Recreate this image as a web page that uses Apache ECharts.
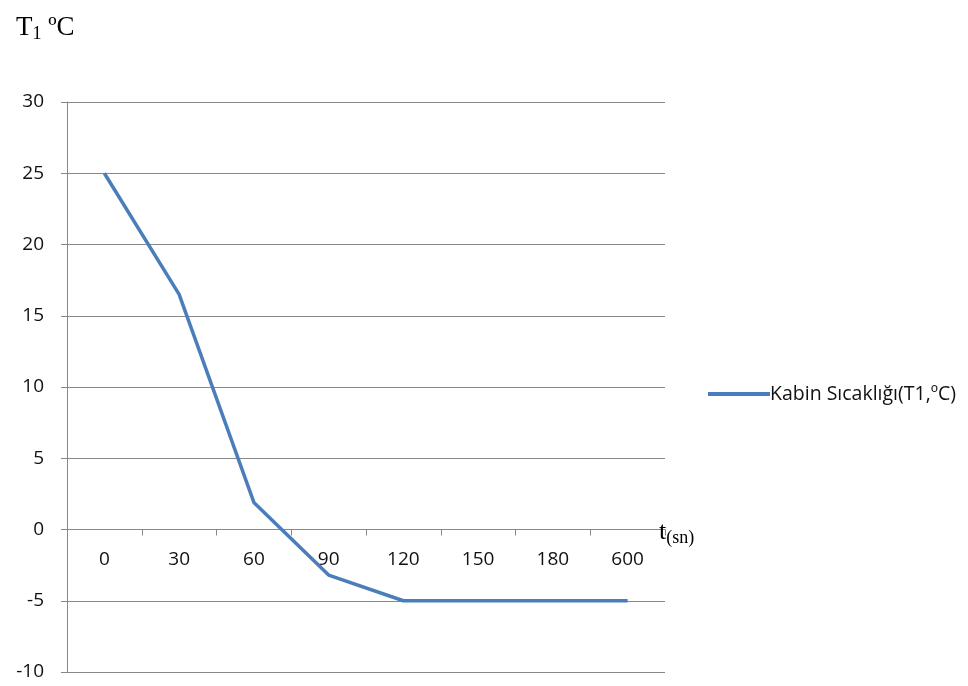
<!DOCTYPE html>
<html><head><meta charset="utf-8">
<script src="https://cdn.jsdelivr.net/npm/echarts@6/dist/echarts.min.js"></script>
<style>html,body{margin:0;padding:0;background:#fff}#c{width:968px;height:686px}</style>
</head><body><div id="c"></div>
<script>
var categories = ['0','30','60','90','120','150','180','600'];
var seriesName = 'Kabin Sıcaklığı(T1,ºC)';
var values = [25, 16.5, 1.9, -3.2, -5, -5, -5, -5];
var yTicks = {min: -10, max: 30, interval: 5};

var chart = echarts.init(document.getElementById('c'));
var labelFont = '"Open Sans", Carlito, sans-serif';
var serif = '"Liberation Serif", "Times New Roman", serif';
var gridTop = 102, gridBottom = 14, H = 686;
var plotH = H - gridTop - gridBottom;
// vertical pixel distance from bottom of plot to the zero line
var zeroOffset = plotH * (0 - yTicks.min) / (yTicks.max - yTicks.min);
chart.setOption({
  animation: false,
  backgroundColor: '#fff',
  title: [{
    text: '{a|T}{b|1}{a| ºC}',
    left: 11, top: 8,
    textStyle: {fontWeight: 'normal', rich: {
      a: {fontFamily: serif, fontSize: 27, fontWeight: 'normal', color: '#000'},
      b: {fontFamily: serif, fontSize: 18, fontWeight: 'normal', color: '#000', padding: [12,0,0,0]}
    }}
  }, {
    text: '{a|t}{b|(sn)}',
    left: 654, top: 512,
    textStyle: {fontWeight: 'normal', rich: {
      a: {fontFamily: serif, fontSize: 26, fontWeight: 'normal', color: '#000'},
      b: {fontFamily: serif, fontSize: 18, fontWeight: 'normal', color: '#000', padding: [12,0,0,0]}
    }}
  }],
  legend: {
    data: [seriesName],
    orient: 'vertical',
    left: 703, top: 379,
    icon: 'rect',
    itemWidth: 62, itemHeight: 4,
    itemGap: 10,
    textStyle: {fontFamily: labelFont, fontSize: 19.5, color: '#111', padding: [0,0,0,-5]}
  },
  grid: {left: 67, right: 303, top: gridTop, bottom: gridBottom, containLabel: false, outerBoundsMode: 'none'},
  xAxis: {
    type: 'category',
    data: categories,
    boundaryGap: true,
    offset: -zeroOffset,
    axisLine: {onZero: false, lineStyle: {color: '#888', width: 1}},
    axisTick: {show: true, inside: false, length: 6, lineStyle: {color: '#888'}},
    axisLabel: {fontFamily: labelFont, fontSize: 19, color: '#111', margin: 21},
    splitLine: {show: false}
  },
  yAxis: {
    type: 'value',
    min: yTicks.min, max: yTicks.max, interval: yTicks.interval,
    axisLine: {show: true, lineStyle: {color: '#888', width: 1}},
    axisTick: {show: true, length: 6, lineStyle: {color: '#888'}},
    axisLabel: {fontFamily: labelFont, fontSize: 19, color: '#111', margin: 23},
    splitLine: {show: true, lineStyle: {color: '#888', width: 1}}
  },
  series: [{
    name: seriesName,
    type: 'line',
    data: values,
    showSymbol: false,
    symbol: 'none',
    lineStyle: {color: '#4a7ebb', width: 3.5},
    itemStyle: {color: '#4a7ebb'}
  }]
});
</script></body></html>
